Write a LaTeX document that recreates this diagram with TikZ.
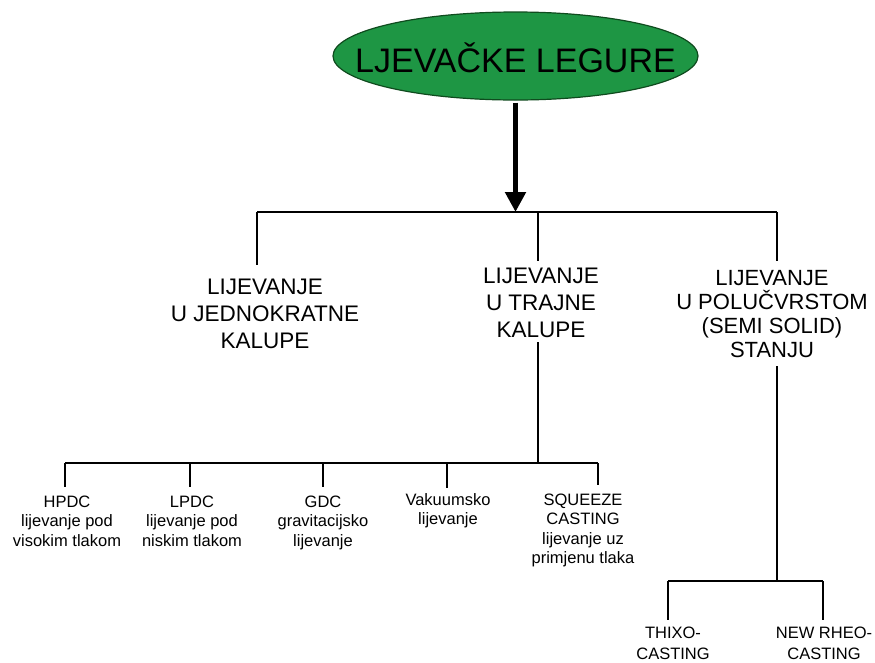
\documentclass[tikz,border=0pt]{standalone}
\usepackage{fontspec}
\setmainfont{Liberation Sans}
\usetikzlibrary{shapes.geometric,arrows.meta}
\definecolor{titlegreen}{RGB}{30,150,68}
\definecolor{titleedge}{RGB}{15,75,30}
\begin{document}
\begin{tikzpicture}[x=1pt,y=-1pt,
  conn/.style={line width=1.6pt, black},
  bigarrow/.style={line width=5.5pt, black, -{Triangle[width=20pt,length=20pt]}},
  titlenode/.style={ellipse, draw=titleedge, line width=1.2pt, fill=titlegreen,
    minimum width=365pt, minimum height=88pt, inner sep=0pt},
  titletext/.style={inner sep=0pt, text height=32pt, text depth=0pt, font=\fontsize{34}{40}\selectfont},
  lvlone/.style={align=center, inner sep=0pt, anchor=base, font=\fontsize{22.5}{27}\selectfont},
  lvltwo/.style={align=center, inner sep=0pt, anchor=base, font=\fontsize{16.5}{19.5}\selectfont},
  lvlthree/.style={align=center, inner sep=0pt, anchor=base, font=\fontsize{16.5}{21}\selectfont}]
\useasboundingbox (0,0) rectangle (875,662);
\fill[white] (0,0) rectangle (875,662);

% title (anchor=base of multi-line nodes = baseline of last line)
\node[titlenode, label={[titletext]center:LJEVAČKE LEGURE}] (title) at (515.5,56) {};

% level one
\node[lvlone] (jedno) at (265,348) {LIJEVANJE\\U JEDNOKRATNE\\KALUPE};
\node[lvlone] (trajne) at (541,337) {LIJEVANJE\\U TRAJNE\\KALUPE};
\node[lvlone, font=\fontsize{22}{24}\selectfont] (polu) at (772,357) {LIJEVANJE\\U POLUČVRSTOM\\(SEMI SOLID)\\STANJU};

% level two
\node[lvltwo] (hpdc) at (67,546) {HPDC\\lijevanje pod\\visokim tlakom};
\node[lvltwo] (lpdc) at (192,546) {LPDC\\lijevanje pod\\niskim tlakom};
\node[lvltwo] (gdc) at (323,546) {GDC\\gravitacijsko\\lijevanje};
\node[lvltwo] (vakuum) at (448,524.5) {Vakuumsko\\lijevanje};
\node[lvltwo] (squeeze) at (583,563.5) {SQUEEZE\\CASTING\\lijevanje uz\\primjenu tlaka};

% level three
\node[lvlthree] (thixo) at (673,659) {THIXO-\\CASTING};
\node[lvlthree] (rheo) at (824,659) {NEW RHEO-\\CASTING};

% junction coordinates
\coordinate (b1L) at (257,212);
\coordinate (b1M) at (538,212);
\coordinate (b1R) at (777,212);
\coordinate (b2M) at (538,463);
\coordinate (b2a) at (65,463);
\coordinate (b2b) at (190,463);
\coordinate (b2c) at (323,463);
\coordinate (b2d) at (447,463);
\coordinate (b2e) at (598,463);
\coordinate (b3M) at (777,581);
\coordinate (b3L) at (668,581);
\coordinate (b3R) at (823,581);

% main arrow
\draw[bigarrow, shorten <=2pt] (title.south) -- (title.south |- b1L);

% first bar
\draw[conn] (b1L) -- (b1R);
\draw[conn, shorten >=13pt] (b1L) -- (b1L |- jedno.north);
\draw[conn, shorten >=6pt] (b1M) -- (b1M |- trajne.north);
\draw[conn, shorten >=9pt] (b1R) -- (b1R |- polu.north);

% second bar
\draw[conn, shorten <=5pt] (b2M |- trajne.south) -- (b2M);
\draw[conn] (b2a) -- (b2e);
\draw[conn, shorten >=8pt] (b2a) -- (b2a |- hpdc.north);
\draw[conn, shorten >=8pt] (b2b) -- (b2b |- lpdc.north);
\draw[conn, shorten >=8pt] (b2c) -- (b2c |- gdc.north);
\draw[conn, shorten >=5pt] (b2d) -- (b2d |- vakuum.north);
\draw[conn, shorten >=8pt] (b2e) -- (b2e |- squeeze.north);

% third bar
\draw[conn, shorten <=9pt] (b3M |- polu.south) -- (b3M);
\draw[conn] (b3L) -- (b3R);
\draw[conn, shorten >=6pt] (b3L) -- (b3L |- thixo.north);
\draw[conn, shorten >=6pt] (b3R) -- (b3R |- rheo.north);
\end{tikzpicture}
\end{document}
